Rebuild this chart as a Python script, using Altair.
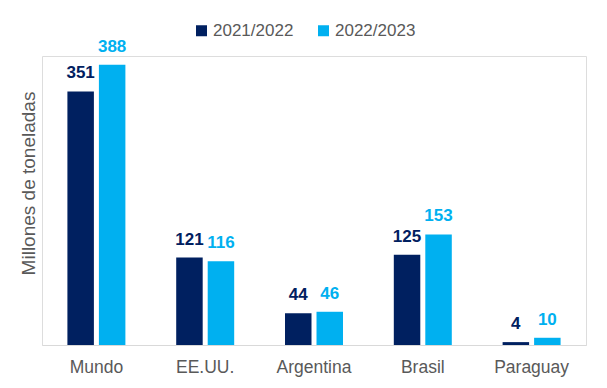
import altair as alt
import pandas as pd

categories = ["Mundo", "EE.UU.", "Argentina", "Brasil", "Paraguay"]
series_names = ["2021/2022", "2022/2023"]
values_2122 = [351, 121, 44, 125, 4]
values_2223 = [388, 116, 46, 153, 10]
colors = ["#002060", "#00B0F0"]

rows = []
for c, a, b in zip(categories, values_2122, values_2223):
    rows.append({"pais": c, "serie": series_names[0], "valor": a})
    rows.append({"pais": c, "serie": series_names[1], "valor": b})
df = pd.DataFrame(rows)

FONT = "Liberation Sans"

x_enc = alt.X("pais:N", sort=categories, title=None,
              scale=alt.Scale(paddingInner=0.467, paddingOuter=0.2335),
              axis=alt.Axis(labelAngle=0, ticks=False, domainColor="#D9D9D9",
                            domainWidth=1.2, labelColor="#595959", labelFontSize=17.5,
                            labelFont=FONT, labelPadding=13))
xoff = alt.XOffset("serie:N", sort=series_names,
                   scale=alt.Scale(paddingInner=0.159, paddingOuter=0))
y_enc = alt.Y("valor:Q", scale=alt.Scale(domain=[0, 400], nice=False),
              axis=alt.Axis(title="Millones de toneladas", labels=False, ticks=False,
                            domain=False, grid=False, titleColor="#595959",
                            titleFont=FONT, titleFontSize=19, titleFontWeight="normal",
                            titleX=-14, titleY=127, titleAngle=270,
                            titleBaseline="middle", titleAlign="center"))
color_scale = alt.Scale(domain=series_names, range=colors)

bars = alt.Chart(df).mark_bar().encode(
    x=x_enc, xOffset=xoff, y=y_enc,
    color=alt.Color("serie:N", scale=color_scale, title=None,
                    legend=alt.Legend(orient="none", legendX=151, legendY=-34,
                                      direction="horizontal", symbolType="square",
                                      symbolSize=121, symbolStrokeWidth=0,
                                      labelFontSize=17, labelFont=FONT,
                                      labelColor="#595959", columnPadding=21,
                                      labelOffset=3, padding=0)),
)

labels = alt.Chart(df).mark_text(fontWeight="bold", fontSize=17, font=FONT,
                                 baseline="alphabetic", dy=-13).encode(
    x=alt.X("pais:N", sort=categories),
    xOffset=alt.XOffset("serie:N", sort=series_names),
    y=alt.Y("valor:Q"),
    text=alt.Text("valor:Q"),
    color=alt.Color("serie:N", scale=color_scale, legend=None),
)

chart = alt.layer(bars, labels).properties(
    width=544, height=289,
    autosize=alt.AutoSizeParams(type="none"),
    padding={"left": 34, "top": 48, "right": 13, "bottom": 35},
).configure_view(stroke="transparent", strokeWidth=0).configure(background="white")

chart.save("out.html", embed_options={"renderer": "svg", "actions": False})
